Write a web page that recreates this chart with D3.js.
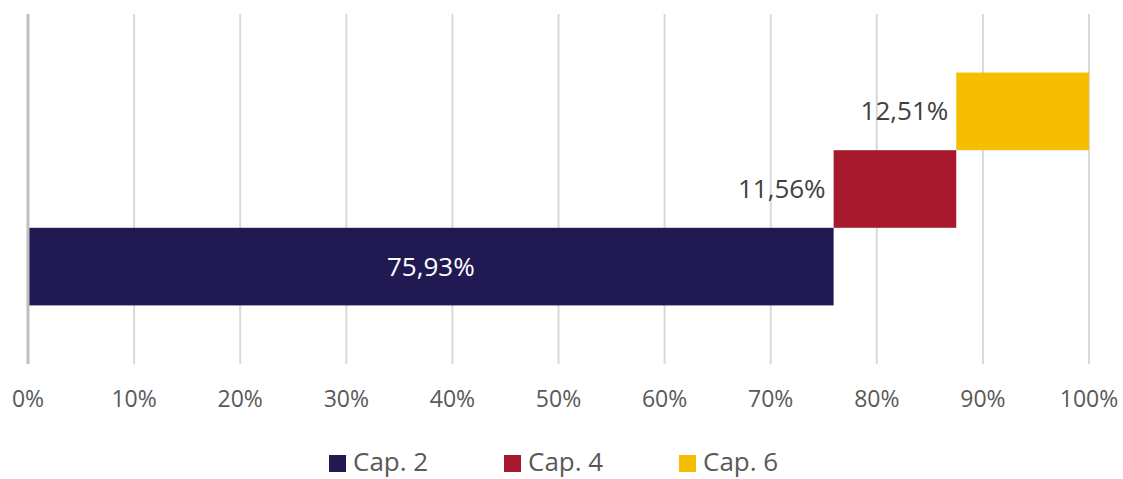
<!DOCTYPE html>
<html>
  <head>
    <meta charset="utf-8">
    <script src="https://cdn.jsdelivr.net/npm/d3@7"></script>
    <style>
      body { margin: 0; background: #fff; }
      text { font-family: "Open Sans", sans-serif; }
    </style>
  </head>
  <body>
    <div id="chart"></div>
    <script type="text/javascript">
    // data
    var categories = ["Cap. 2", "Cap. 4", "Cap. 6"];
    var shares = [75.93, 11.56, 12.51];
    var labels = ["75,93%", "11,56%", "12,51%"];
    var colors = ["#211951", "#a8192d", "#f6be00"];
    var ticks = [0, 10, 20, 30, 40, 50, 60, 70, 80, 90, 100];

    var width = 1123, height = 479;

    var svg = d3.select("#chart")
      .append("svg")
      .attr("width", width)
      .attr("height", height);

    //x scale in percent
    var x = d3.scaleLinear().domain([0, 100]).range([28, 1089]);

    //rows, last category on top
    var y = d3.scaleBand()
      .domain(categories.slice().reverse())
      .range([14, 364])
      .paddingInner(0)
      .paddingOuter(0.755);

    //running start of each segment
    var starts = [];
    var acc = 0;
    shares.forEach(function(v) { starts.push(acc); acc += v; });

    //gridlines
    svg.append("g").selectAll("line")
      .data(ticks.slice(1))
      .enter().append("line")
      .attr("x1", function(d) { return x(d); })
      .attr("x2", function(d) { return x(d); })
      .attr("y1", 14)
      .attr("y2", 364)
      .attr("stroke", "#d9d9d9")
      .attr("stroke-width", 2);

    //bars
    svg.append("g").selectAll("rect")
      .data(categories)
      .enter().append("rect")
      .attr("x", function(d, i) { return x(starts[i]); })
      .attr("y", function(d) { return y(d); })
      .attr("width", function(d, i) { return x(starts[i] + shares[i]) - x(starts[i]); })
      .attr("height", y.bandwidth())
      .attr("fill", function(d, i) { return colors[i]; });

    //axis line at 0
    svg.append("line")
      .attr("x1", x(0)).attr("x2", x(0))
      .attr("y1", 14).attr("y2", 364)
      .attr("stroke", "#bfbfbf")
      .attr("stroke-width", 3);

    //data labels: first one inside, the others to the left of the bar
    svg.append("g").selectAll("text")
      .data(categories)
      .enter().append("text")
      .attr("x", function(d, i) {
        return i == 0 ? x(starts[i] + shares[i] / 2) : x(starts[i]) - 8;
      })
      .attr("y", function(d) { return y(d) + y.bandwidth() / 2 + 9; })
      .attr("text-anchor", function(d, i) { return i == 0 ? "middle" : "end"; })
      .attr("fill", function(d, i) { return i == 0 ? "#ffffff" : "#404040"; })
      .style("font-size", "26px")
      .text(function(d, i) { return labels[i]; });

    //tick labels
    svg.append("g").selectAll("text")
      .data(ticks)
      .enter().append("text")
      .attr("x", function(d) { return x(d); })
      .attr("y", 407)
      .attr("text-anchor", "middle")
      .attr("fill", "#595959")
      .style("font-size", "23px")
      .text(function(d) { return d + "%"; });

    //legend
    var legendX = [329, 504, 679];
    var legend = svg.append("g").selectAll("g")
      .data(categories)
      .enter().append("g")
      .attr("transform", function(d, i) { return "translate(" + legendX[i] + ",455)"; });
    legend.append("rect")
      .attr("width", 17).attr("height", 17)
      .attr("fill", function(d, i) { return colors[i]; });
    legend.append("text")
      .attr("x", 24)
      .attr("y", 16)
      .attr("fill", "#595959")
      .style("font-size", "26px")
      .text(function(d) { return d; });
    </script>
  </body>
</html>
